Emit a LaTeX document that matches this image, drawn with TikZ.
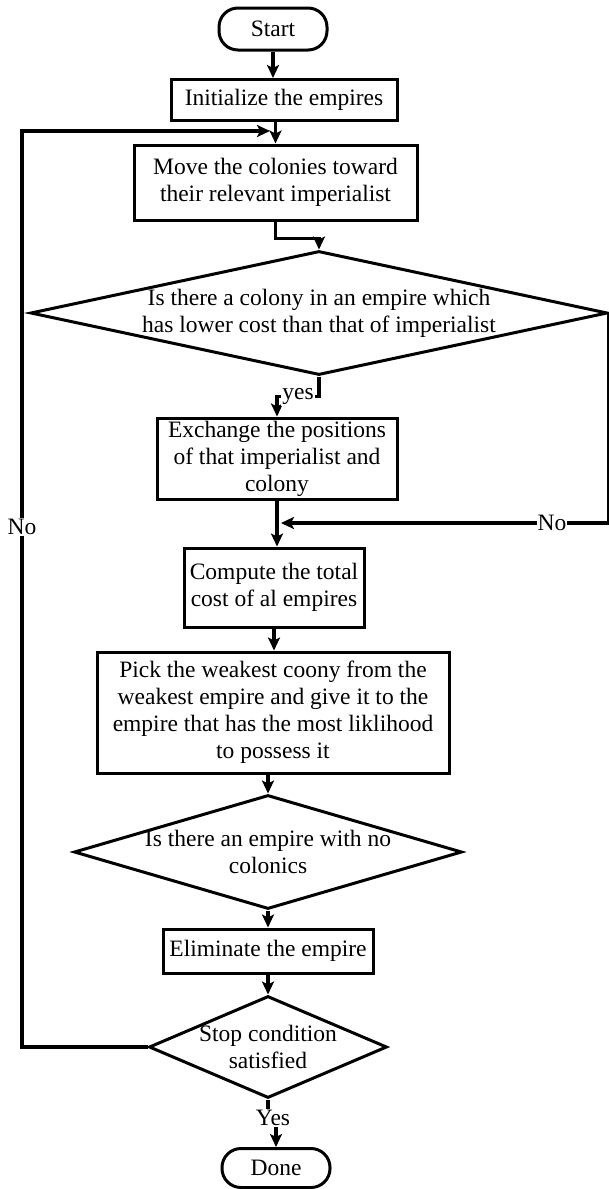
\documentclass[tikz,border=0pt]{standalone}
\usepackage{fontspec}
\setmainfont{Liberation Serif}
\usetikzlibrary{arrows.meta,shapes.geometric}

\begin{document}
\begin{tikzpicture}[
                x=1pt, y=-1pt,
                every node/.style={font=\fontsize{23.5}{27}\selectfont, align=center, inner sep=0pt},
                box/.style={rectangle, draw, line width=3pt},
                term/.style={box, rounded corners=19pt},
                decision/.style={diamond, draw, line width=3pt},
                arr/.style={line width=3.2pt, -{Stealth[length=13pt,width=12pt,inset=3pt]}},
                lbl/.style={fill=white, inner sep=1pt}
                ]
                \useasboundingbox (0,0) rectangle (609,1189);
                % main column
                \node[term, minimum width=108pt, minimum height=42pt] (start) at (273,29) {Start};
                \node[box, minimum width=226pt, minimum height=41pt] (init) at (284,100) {Initialize the empires};
                \node[box, minimum width=283pt, minimum height=75pt] (move) at (275.5,182.5) {Move the colonies toward\\their relevant imperialist};
                \node[decision, aspect=4.65, inner ysep=-2pt, minimum width=577pt, minimum height=124pt] (cheaper) at (319,313) {Is there a colony in an empire which\\has lower cost than that of imperialist};
                \node[box, minimum width=240pt, minimum height=81pt] (swap) at (277,458.5) {Exchange the positions\\of that imperialist and\\colony};
                \node[box, minimum width=180pt, minimum height=79pt] (total) at (274,587.5) {Compute the total\\cost of al empires};
                \node[box, minimum width=352pt, minimum height=121pt] (pick) at (273,712.5) {Pick the weakest coony from the\\weakest empire and give it to the\\empire that has the most liklihood\\to possess it};
                \node[decision, aspect=3.4, inner ysep=-5pt, minimum width=388pt, minimum height=114pt] (empty) at (268,852) {Is there an empire with no\\colonics};
                \node[box, minimum width=210pt, minimum height=44pt] (elim) at (268,951) {Eliminate the empire};
                \node[decision, aspect=2.33, inner ysep=-4pt, minimum width=238pt, minimum height=102pt] (stop) at (268,1047) {Stop condition\\satisfied};
                \node[term, minimum width=108pt, minimum height=39pt] (done) at (276,1168) {Done};
                \coordinate (loopin) at (270,131);
                \coordinate (leftside) at (22,0);
                \coordinate (merge) at (281,523);
                % connectors
                \draw[arr] (start.south) -- (start.south |- init.north);
                \draw[arr] (init.south -| move) -- (move.north);
                \draw[arr] (move.south) -- ++(0,17) -| (cheaper.north);
                \draw[arr] (cheaper.south) -- ++(0,20) -| node[pos=0.25, lbl] {yes} (swap.north);
                \draw[arr] (cheaper.east) |- node[pos=0.587, lbl] {No} (merge);
                \draw[arr] (swap.south) -- (swap.south |- total.north);
                \draw[arr] (total.south) -- (total.south |- pick.north);
                \draw[arr] (pick.south -| empty) -- (empty.north);
                \draw[arr] (empty.south) -- (elim.north);
                \draw[arr] (elim.south) -- (stop.north);
                \draw[arr] (stop.south) -- ++(0,12) -| (done.north);
                \node[lbl] (yeslbl) at (273,1118) {Yes};
                % back to the move step
                \draw[arr] (stop.west) -| (leftside |- loopin) -- (loopin);
                \node[lbl] (nolbl) at (22,527) {No};
            \end{tikzpicture}
\end{document}
